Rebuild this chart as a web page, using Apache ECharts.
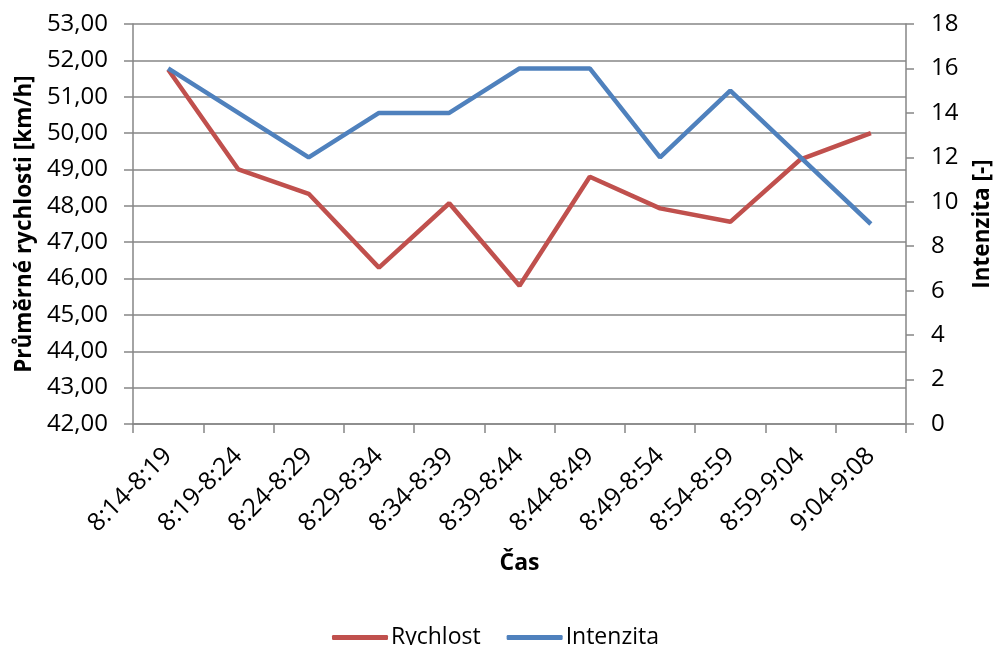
<!DOCTYPE html>
<html>
<head>
<meta charset="utf-8">
<script src="https://cdn.jsdelivr.net/npm/echarts@6/dist/echarts.min.js"></script>
<style>html,body{margin:0;padding:0;background:#fff}#c{width:997px;height:645px}</style>
</head>
<body>
<div id="c"></div>
<script>
const categories = ['8:14-8:19','8:19-8:24','8:24-8:29','8:29-8:34','8:34-8:39','8:39-8:44','8:44-8:49','8:49-8:54','8:54-8:59','8:59-9:04','9:04-9:08'];
const rychlost = [51.75, 49.0, 48.33, 46.3, 48.07, 45.8, 48.8, 47.93, 47.56, 49.28, 50.0];
const intenzita = [16, 14, 12, 14, 14, 16, 16, 12, 15, 12, 9];
const leftTicks = {min: 42, max: 53, interval: 1};
const rightTicks = {min: 0, max: 18, interval: 2};

const FONT = 'Open Sans';
const axisGray = '#868686';
const chart = echarts.init(document.getElementById('c'));
chart.setOption({
  animation: false,
  textStyle: {fontFamily: FONT, color: '#000'},
  grid: {left: 133, right: 91, top: 24, bottom: 221, containLabel: false, outerBoundsMode: 'none'},
  legend: {
    top: 621, left: 327,
    data: ['Rychlost', 'Intenzita'],
    icon: 'roundRect', itemWidth: 56, itemHeight: 5, itemGap: 26,
    textStyle: {fontFamily: FONT, fontSize: 23, color: '#000', padding: [0,0,0,-2]}
  },
  xAxis: {
    type: 'category', data: categories, boundaryGap: true,
    name: 'Čas', nameLocation: 'middle', nameGap: 128,
    nameTextStyle: {fontFamily: FONT, fontSize: 23, fontWeight: 'bold', color: '#000'},
    axisLine: {lineStyle: {color: axisGray, width: 1.5}},
    axisTick: {show: true, length: 9, alignWithLabel: false, interval: 0, lineStyle: {color: axisGray, width: 1.5}},
    axisLabel: {rotate: 45, interval: 0, fontSize: 25, color: '#000', margin: 28, fontFamily: FONT},
    splitLine: {show: false}
  },
  yAxis: [{
    type: 'value', min: leftTicks.min, max: leftTicks.max, interval: leftTicks.interval,
    name: 'Průměrné rychlosti [km/h]', nameLocation: 'middle', nameGap: 97, nameRotate: 90,
    nameTextStyle: {fontFamily: FONT, fontSize: 22.5, fontWeight: 'bold', color: '#000'},
    axisLine: {show: true, lineStyle: {color: axisGray, width: 1.5}},
    axisTick: {show: true, length: 9, lineStyle: {color: axisGray, width: 1.5}},
    axisLabel: {fontSize: 24, color: '#000', margin: 25, formatter: v => v.toFixed(2).replace('.', ','), fontFamily: FONT},
    splitLine: {show: true, lineStyle: {color: axisGray, width: 1.5}}
  }, {
    type: 'value', position: 'right', min: rightTicks.min, max: rightTicks.max, interval: rightTicks.interval,
    name: 'Intenzita [-]', nameLocation: 'middle', nameGap: 65, nameRotate: 90,
    nameTextStyle: {fontFamily: FONT, fontSize: 22.5, fontWeight: 'bold', color: '#000'},
    axisLine: {show: true, lineStyle: {color: axisGray, width: 1.5}},
    axisTick: {show: true, length: 8, lineStyle: {color: axisGray, width: 1.5}},
    axisLabel: {fontSize: 24, color: '#000', margin: 25, fontFamily: FONT},
    splitLine: {show: false}
  }],
  series: [{
    name: 'Rychlost', type: 'line', data: rychlost, yAxisIndex: 0,
    symbol: 'none', lineStyle: {color: '#C0504D', width: 4.5}, itemStyle: {color: '#C0504D'}
  }, {
    name: 'Intenzita', type: 'line', data: intenzita, yAxisIndex: 1,
    symbol: 'none', lineStyle: {color: '#4F81BD', width: 4.5}, itemStyle: {color: '#4F81BD'}
  }]
});
</script>
</body>
</html>
